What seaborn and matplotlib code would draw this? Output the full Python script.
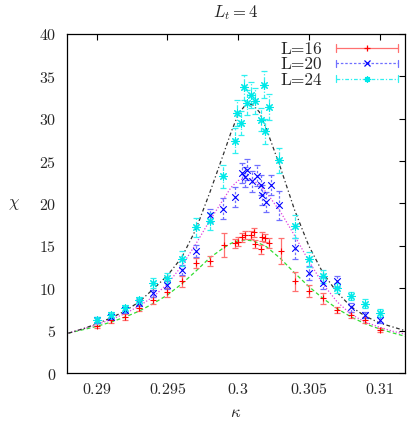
import numpy as np
import pandas as pd
import matplotlib
matplotlib.use("Agg")
import matplotlib.pyplot as plt
import seaborn as sns
from matplotlib.lines import Line2D
from matplotlib.legend_handler import HandlerBase
from matplotlib.ticker import FuncFormatter, FixedLocator

# ---------------- data ----------------
k16 = [0.290, 0.291, 0.292, 0.293, 0.294, 0.295, 0.296, 0.297, 0.298, 0.299,
       0.2998, 0.3000, 0.3003, 0.3005, 0.3009, 0.3011, 0.3012, 0.3016, 0.3017,
       0.3019, 0.3022, 0.303, 0.304, 0.305, 0.306, 0.307, 0.308, 0.309, 0.310]
chi16 = [5.6, 6.2, 6.6, 7.7, 8.6, 9.5, 10.8, 13.0, 13.2, 15.1,
         15.3, 15.5, 16.0, 16.3, 16.3, 16.6, 15.2, 14.6, 16.1,
         15.9, 15.3, 14.4, 10.8, 9.7, 8.8, 7.4, 6.85, 6.3, 5.1]
err16 = [0.3, 0.3, 0.35, 0.35, 0.4, 0.5, 0.6, 0.6, 0.6, 1.4,
         0.5, 0.5, 0.5, 0.5, 0.5, 0.5, 0.5, 0.5, 0.5,
         0.5, 0.6, 1.5, 1.1, 0.7, 0.6, 0.35, 0.35, 0.35, 0.25]

k20 = [0.290, 0.291, 0.292, 0.293, 0.294, 0.295, 0.296, 0.297, 0.298, 0.2989,
       0.2998, 0.3003, 0.3006, 0.3005, 0.3010, 0.3013, 0.3016, 0.3017, 0.3020,
       0.3023, 0.3029, 0.304, 0.305, 0.306, 0.307, 0.308, 0.309, 0.310]
chi20 = [6.25, 6.65, 7.4, 8.3, 9.4, 10.4, 12.15, 14.4, 18.6, 19.4,
         20.8, 23.6, 24.0, 23.1, 22.6, 23.3, 22.2, 21.0, 20.2,
         22.2, 19.8, 14.7, 11.8, 10.6, 10.8, 7.75, 6.85, 6.25]
err20 = [0.3, 0.3, 0.35, 0.4, 0.4, 0.5, 0.6, 0.7, 0.8, 1.2,
         1.2, 1.2, 1.2, 1.2, 1.2, 1.2, 1.2, 1.2, 1.2,
         1.2, 1.7, 1.2, 0.8, 0.7, 0.7, 0.5, 0.4, 0.35]

k24 = [0.290, 0.291, 0.292, 0.293, 0.294, 0.295, 0.296, 0.297, 0.298, 0.2989,
       0.2998, 0.2999, 0.3002, 0.3004, 0.3006, 0.3009, 0.3012, 0.3016, 0.3018,
       0.3019, 0.3022, 0.3029, 0.304, 0.305, 0.306, 0.307, 0.308, 0.309, 0.310]
chi24 = [6.3, 6.85, 7.65, 8.6, 10.6, 11.2, 13.5, 17.2, 17.9, 23.2,
         27.4, 30.7, 29.5, 33.7, 31.9, 32.8, 32.1, 29.9, 34.0,
         28.5, 31.4, 25.1, 17.3, 13.4, 11.4, 10.0, 9.1, 8.2, 7.1]
err24 = [0.3, 0.3, 0.4, 0.4, 0.6, 0.6, 0.9, 1.1, 1.0, 1.4,
         1.5, 1.5, 1.4, 1.5, 1.5, 1.5, 1.5, 1.4, 1.6,
         1.5, 1.5, 1.5, 1.4, 0.9, 0.8, 0.6, 0.5, 0.5, 0.5]

# fitted curves
kfit = [0.288, 0.289, 0.290, 0.291, 0.292, 0.293, 0.294, 0.295, 0.296, 0.297,
        0.298, 0.299, 0.2995, 0.300, 0.3005, 0.301, 0.3015, 0.302, 0.303, 0.304,
        0.305, 0.306, 0.307, 0.308, 0.309, 0.310, 0.311, 0.312]
fit16 = [4.7, 5.1, 5.5, 6.0, 6.6, 7.3, 8.2, 9.2, 10.5, 12.0,
         13.6, 14.8, 15.3, 15.6, 15.7, 15.6, 15.3, 14.9, 13.5, 11.8,
         10.2, 8.8, 7.6, 6.6, 5.8, 5.2, 4.7, 4.25]
fit20 = [4.7, 5.2, 5.7, 6.3, 7.0, 7.9, 9.0, 10.5, 12.6, 15.2,
         18.0, 20.6, 21.9, 22.7, 23.0, 22.8, 22.2, 21.3, 19.0, 16.2,
         13.2, 10.5, 8.4, 6.9, 6.0, 5.4, 4.9, 4.5]
fit24 = [4.7, 5.2, 5.8, 6.5, 7.3, 8.4, 9.9, 11.5, 13.6, 16.9,
         21.3, 26.0, 28.4, 30.5, 31.6, 31.7, 30.8, 28.8, 24.2, 19.2,
         15.0, 11.8, 9.5, 7.8, 6.7, 5.9, 5.4, 4.9]

labels = ["L=16", "L=20", "L=24"]
xticks = [0.29, 0.295, 0.30, 0.305, 0.31]
xticklabels = ["0.29", "0.295", "0.3", "0.305", "0.31"]
yticks = [0, 5, 10, 15, 20, 25, 30, 35, 40]

# ---------------- style ----------------
sns.set_style("white")
plt.rcParams["mathtext.fontset"] = "cm"
plt.rcParams["font.family"] = ["DejaVu Serif"]
plt.rcParams["axes.unicode_minus"] = False

fig = plt.figure(figsize=(4.07, 4.23), dpi=100)
ax = fig.add_axes([67 / 407, 50 / 423, 338 / 407, 339 / 423])

# fits
sns.lineplot(x=kfit, y=fit16, ax=ax, color="#33dd33", linewidth=0.9,
             linestyle=(0, (3, 2)), sort=False)
sns.lineplot(x=kfit, y=fit20, ax=ax, color="#e040e0", linewidth=0.9,
             linestyle=(0, (1, 1.5)), sort=False)
sns.lineplot(x=kfit, y=fit24, ax=ax, color="#303030", linewidth=0.9,
             linestyle=(0, (3, 2, 1, 2)), sort=False)

series = [
    (k16, chi16, err16, "#ff0000", "#ff7070", "-", "+", 22),
    (k20, chi20, err20, "#0000ff", "#7070ff", (0, (2, 1.5)), "x", 22),
    (k24, chi24, err24, "#00e8e8", "#30f0f0", (0, (3, 1.5, 1, 1.5)), (8, 2, 0), 30),
]
for k, c, e, col, ecol, ls, mk, sz in series:
    eb = ax.errorbar(k, c, yerr=e, fmt="none", ecolor=ecol, elinewidth=0.9,
                     capsize=2.5, capthick=0.9)
    eb[2][0].set_linestyle(ls)
    sns.scatterplot(x=k, y=c, ax=ax, marker=mk, color=col, s=sz,
                    linewidth=0.8, zorder=5)


# legend handler like gnuplot's errorbar key
class ErrHandler(HandlerBase):
    def create_artists(self, legend, orig_handle, xdescent, ydescent, width,
                       height, fontsize, trans):
        col, ecol, ls, mk = orig_handle
        y = (height - ydescent) / 2.0
        x0, x1 = -xdescent, width - xdescent
        c = height * 0.3
        a = [Line2D([x0, x1], [y, y], color=ecol, ls=ls, lw=0.9, transform=trans),
             Line2D([x0, x0], [y - c, y + c], color=ecol, lw=0.9, transform=trans),
             Line2D([x1, x1], [y - c, y + c], color=ecol, lw=0.9, transform=trans),
             Line2D([(x0 + x1) / 2], [y], color=col, marker=mk, ms=4.5, mew=0.9,
                    ls="none", transform=trans)]
        return a


handles = [(s[3], s[4], s[5], s[6]) for s in series]
leg = ax.legend(handles, labels,
                handler_map={tuple: ErrHandler()}, loc="upper right",
                frameon=False, markerfirst=False,
                prop={"family": "cmr10", "size": 12.5},
                handlelength=3.6, handletextpad=0.8, labelspacing=0.0,
                borderaxespad=0.0, bbox_to_anchor=(1.0, 0.998))

ax.set_xlim(0.2879, 0.3118)
ax.set_ylim(0, 40)
ax.xaxis.set_major_locator(FixedLocator(xticks))
ax.set_xticklabels([r"$%s$" % t for t in xticklabels])
ax.yaxis.set_major_locator(FixedLocator(yticks))
ax.yaxis.set_major_formatter(FuncFormatter(lambda v, p: r"$%d$" % v))
ax.tick_params(direction="in", length=4, width=0.8, top=True, right=True,
               labelsize=11.5, color="black")
ax.tick_params(axis="x", pad=6)
ax.tick_params(axis="y", pad=8)
for s in ax.spines.values():
    s.set_linewidth(0.9)
    s.set_color("black")

ax.set_xlabel(r"$\kappa$", fontsize=12, labelpad=4)
ax.set_ylabel(r"$\chi$", fontsize=12, rotation=0, labelpad=18, va="center")
ax.set_title(r"$L_t = 4$", fontsize=12, pad=12)

fig.savefig("out.png", dpi=100)
